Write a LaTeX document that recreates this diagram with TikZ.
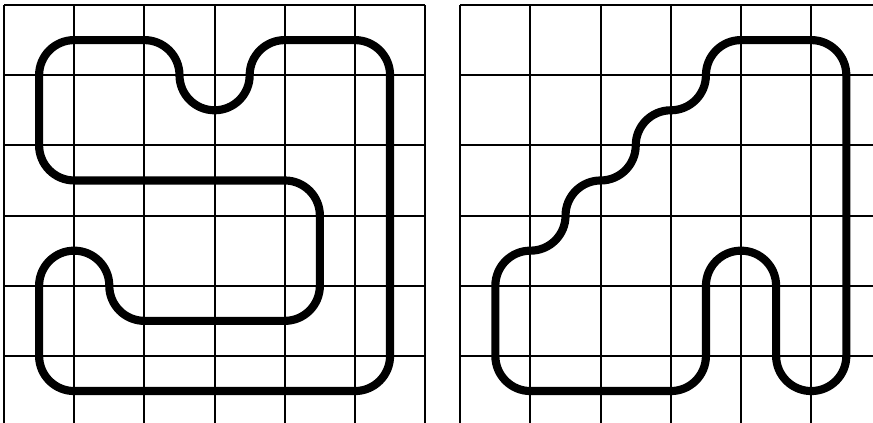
\documentclass[tikz,border=0pt]{standalone}
\usepackage{xcolor}
\usepackage{tikz}

\begin{document}
\begin{tikzpicture}[
    gridline/.style={line width=0.8pt, black},
    track/.style={line width=3.3pt, black, line join=round}]
  \useasboundingbox (-0.057,0.057) rectangle (12.38,6.071);
  \clip (-0.057,0.057) rectangle (12.38,6.071);
  % left board
  \draw[gridline] (0,-0.2) grid (6,6);
  \draw[track] (1,5.5) -- (2,5.5)
        arc[start angle=90,end angle=0,radius=0.5]
        arc[start angle=180,end angle=360,radius=0.5]
        arc[start angle=180,end angle=90,radius=0.5]
        -- (5,5.5)
        arc[start angle=90,end angle=0,radius=0.5]
        -- (5.5,1)
        arc[start angle=0,end angle=-90,radius=0.5]
        -- (1,0.5)
        arc[start angle=270,end angle=180,radius=0.5]
        -- (0.5,2)
        arc[start angle=180,end angle=0,radius=0.5]
        arc[start angle=180,end angle=270,radius=0.5]
        -- (4,1.5)
        arc[start angle=270,end angle=360,radius=0.5]
        -- (4.5,3)
        arc[start angle=0,end angle=90,radius=0.5]
        -- (1,3.5)
        arc[start angle=270,end angle=180,radius=0.5]
        -- (0.5,5)
        arc[start angle=180,end angle=90,radius=0.5]
        -- cycle;
  % right board
  \begin{scope}[xshift=6.5cm]
    \draw[gridline] (0,-0.2) grid (6,6);
    \draw[track] (4,5.5) -- (5,5.5)
          arc[start angle=90,end angle=0,radius=0.5]
          -- (5.5,1)
          arc[start angle=0,end angle=-180,radius=0.5]
          -- (4.5,2)
          arc[start angle=0,end angle=180,radius=0.5]
          -- (3.5,1)
          arc[start angle=0,end angle=-90,radius=0.5]
          -- (1,0.5)
          arc[start angle=270,end angle=180,radius=0.5]
          -- (0.5,2)
          arc[start angle=180,end angle=90,radius=0.5]
          arc[start angle=270,end angle=360,radius=0.5]
          arc[start angle=180,end angle=90,radius=0.5]
          arc[start angle=270,end angle=360,radius=0.5]
          arc[start angle=180,end angle=90,radius=0.5]
          arc[start angle=270,end angle=360,radius=0.5]
          arc[start angle=180,end angle=90,radius=0.5]
          -- cycle;
  \end{scope}
\end{tikzpicture}
\end{document}
